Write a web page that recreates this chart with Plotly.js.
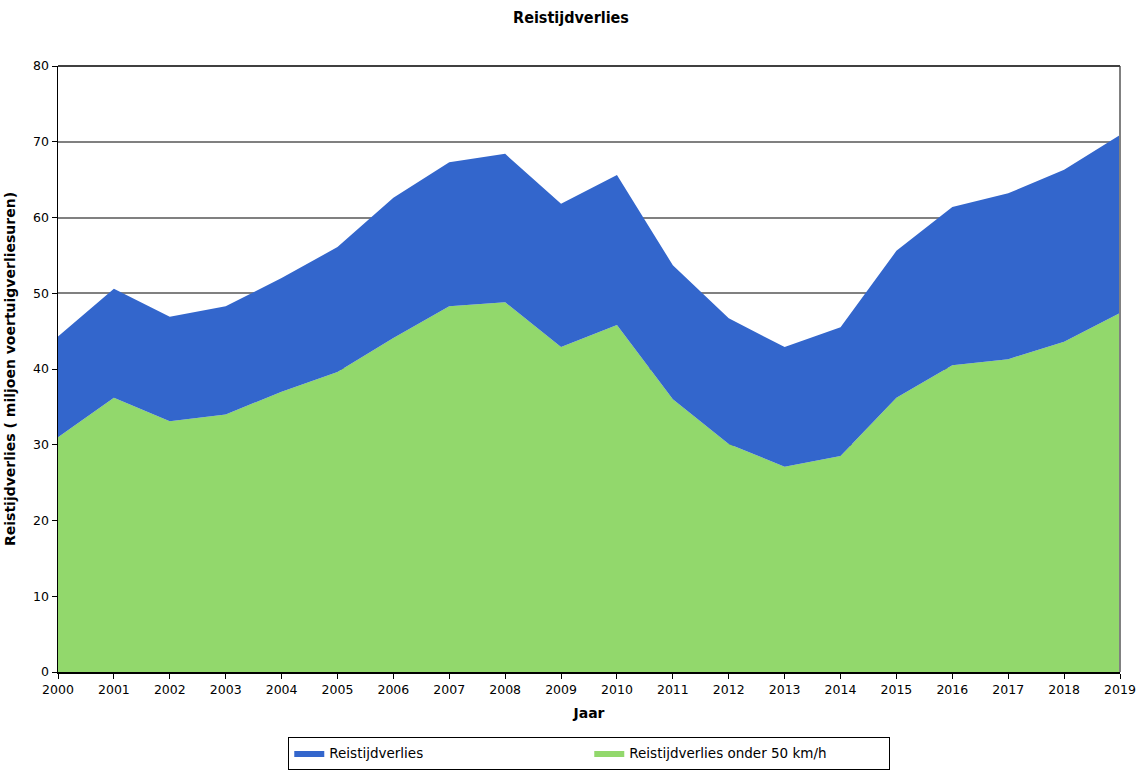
<!DOCTYPE html>
<html>
<head>
<meta charset="utf-8">
<script src="https://cdn.plot.ly/plotly-3.0.1.min.js"></script>
<style>html,body{margin:0;padding:0;background:#fff;}#chart{width:1142px;height:771px;}</style>
</head>
<body>
<div id="chart"></div>
<script>
const years = [2000,2001,2002,2003,2004,2005,2006,2007,2008,2009,2010,2011,2012,2013,2014,2015,2016,2017,2018,2019];
const totalLoss = [44.3,50.6,46.9,48.3,52.0,56.1,62.6,67.3,68.4,61.8,65.6,53.7,46.7,42.9,45.5,55.6,61.4,63.2,66.3,70.9];
const lossUnder50 = [31.0,36.2,33.1,34.0,37.0,39.6,44.1,48.3,48.8,42.9,45.8,36.0,30.1,27.1,28.5,36.2,40.5,41.3,43.6,47.4];
const extraLoss = totalLoss.map((t,i)=>+(t - lossUnder50[i]).toFixed(2));

const font = "Verdana, 'DejaVu Sans', sans-serif";
const traces = [
  {x: years, y: lossUnder50, name: 'Reistijdverlies onder 50 km/h', type:'scatter', mode:'lines',
   stackgroup:'one', line:{width:0, color:'#92d86c'}, fillcolor:'#92d86c'},
  {x: years, y: extraLoss, name: 'Reistijdverlies', type:'scatter', mode:'lines',
   stackgroup:'one', line:{width:0, color:'#3366cc'}, fillcolor:'#3366cc'}
];
const layout = {
  width:1142, height:771,
  margin:{l:58, r:22, t:66, b:99, autoexpand:false},
  paper_bgcolor:'#fff', plot_bgcolor:'#fff',
  font:{family:font, size:12, color:'#000'},
  title:{text:'<b>Reistijdverlies</b>', x:0.5, xanchor:'center', y:0.985, yanchor:'top', font:{family:"Tahoma, 'DejaVu Sans Condensed', 'DejaVu Sans', sans-serif", size:16}},
  xaxis:{range:[2000,2019], tickvals:years, ticktext:years.map(String), showgrid:false, zeroline:false,
    showline:true, linecolor:'#000', linewidth:1.5, ticks:'outside', ticklen:5, tickcolor:'#000', mirror:false,
    tickfont:{size:12.5}, title:{text:'<b>Jaar</b>', font:{size:14}, standoff:12}},
  yaxis:{range:[0,80], dtick:10, showgrid:true, gridcolor:'#808080', gridwidth:2, zeroline:false,
    showline:true, linecolor:'#000', linewidth:1.5, ticks:'outside', ticklen:5, tickcolor:'#000',
    tickfont:{size:12.5}, title:{text:'<b>Reistijdverlies ( miljoen voertuigverliesuren)</b>', font:{size:14}, standoff:14}},
  shapes:[
    {type:'line', xref:'paper', yref:'paper', x0:1, x1:1, y0:0, y1:1, line:{color:'#808080', width:2}},
    {type:'line', xref:'paper', yref:'paper', x0:0, x1:1, y0:1, y1:1, line:{color:'#404040', width:2}}
  ],
  legend:{orientation:'h', x:0.516, xanchor:'center', xref:'container', yref:'container', y:0.0015, yanchor:'bottom', traceorder:'reversed',
    bordercolor:'#000', borderwidth:1, bgcolor:'#fff', font:{size:13.5}, entrywidth:255, itemwidth:30},
  showlegend:true
};
Plotly.newPlot('chart', traces, layout, {displayModeBar:false, staticPlot:true});
</script>
</body>
</html>
